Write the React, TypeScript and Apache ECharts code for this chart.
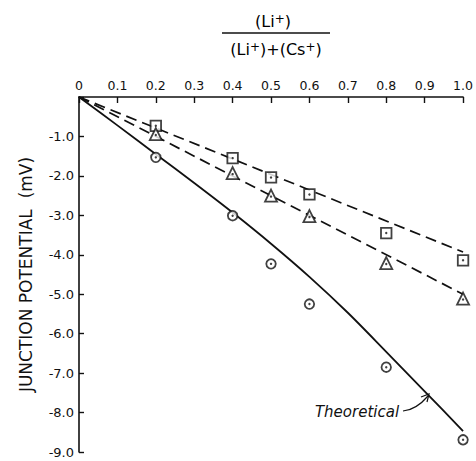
import React, { useEffect, useRef } from "react";
import * as echarts from "echarts";

const fractions = [0.2, 0.4, 0.5, 0.6, 0.8, 1.0];
const squareValues = [-0.73, -1.55, -2.04, -2.47, -3.45, -4.14];
const triangleValues = [-0.94, -1.93, -2.5, -3.02, -4.21, -5.11];
const circleValues = [-1.53, -3.01, -4.23, -5.25, -6.85, -8.69];

const theoX = [0, 0.1, 0.2, 0.3, 0.4, 0.5, 0.6, 0.7, 0.8, 0.9, 1.0];
const theoY = [0, -0.72, -1.45, -2.18, -2.93, -3.72, -4.56, -5.47, -6.46, -7.46, -8.47];

const squareFitX = [0, 1.0];
const squareFitY = [0, -3.93];
const triangleFitX = [0, 1.0];
const triangleFitY = [0, -5.0];

const FONT = "DejaVu Sans";

const zip = (xs: number[], ys: number[]) => xs.map((x, i) => [x, ys[i]]);

export default function App() {
  const ref = useRef<HTMLDivElement>(null);

  useEffect(() => {
    document.body.style.margin = "0";
    const chart = echarts.init(ref.current!, null, { renderer: "svg" });

    const markerSeries = (name: string, symbol: string, size: number, vals: number[]) => [
      {
        name,
        type: "scatter",
        data: zip(fractions, vals),
        symbol,
        symbolSize: size,
        itemStyle: { color: "#fff", borderColor: "#111", borderWidth: 1.8 },
        z: 5,
      },
      {
        name: name + "-dot",
        type: "scatter",
        data: zip(fractions, vals),
        symbol: "circle",
        symbolSize: 2.4,
        symbolOffset: symbol === "triangle" ? [0, 1] : [0, 0],
        itemStyle: { color: "#111" },
        z: 6,
      },
    ];

    const rich = {
      n: { fontFamily: FONT, fontSize: 16, color: "#111", verticalAlign: "bottom" },
      s: { fontFamily: FONT, fontSize: 12, color: "#111", verticalAlign: "top" },
    };

    chart.setOption({
      animation: false,
      backgroundColor: "#fff",
      grid: { left: 79, right: 10, top: 97, bottom: 9 },
      xAxis: {
        type: "value",
        position: "top",
        min: 0,
        max: 1,
        interval: 0.1,
        splitLine: { show: false },
        axisLine: { show: true, onZero: false, lineStyle: { color: "#111", width: 1.6 } },
        axisTick: { show: true, inside: true, length: 6, lineStyle: { color: "#111", width: 1.4 } },
        axisLabel: {
          margin: 5,
          fontFamily: FONT,
          fontSize: 12.5,
          color: "#111",
          formatter: (v: number) => (Math.abs(v) < 1e-9 ? "0" : v.toFixed(1)),
        },
      },
      yAxis: {
        type: "value",
        min: -9,
        max: 0,
        interval: 1,
        splitLine: { show: false },
        axisLine: { show: true, onZero: false, lineStyle: { color: "#111", width: 1.6 } },
        axisTick: { show: true, inside: true, length: 5, lineStyle: { color: "#111", width: 1.4 } },
        axisLabel: {
          margin: 5,
          fontFamily: FONT,
          fontSize: 13,
          color: "#111",
          formatter: (v: number) => (Math.abs(v) < 1e-9 ? "" : v.toFixed(1)),
        },
        name: "JUNCTION POTENTIAL  (mV)",
        nameLocation: "middle",
        nameRotate: 90,
        nameGap: 45,
        nameTextStyle: { fontFamily: FONT, fontSize: 17, color: "#111" },
      },
      series: [
        {
          name: "Theoretical",
          type: "line",
          data: zip(theoX, theoY),
          symbol: "none",
          smooth: 0.3,
          lineStyle: { color: "#111", width: 1.8 },
          z: 3,
        },
        {
          name: "square-fit",
          type: "line",
          data: zip(squareFitX, squareFitY),
          symbol: "none",
          lineStyle: { color: "#111", width: 1.7, type: [11, 6] },
          z: 3,
        },
        {
          name: "triangle-fit",
          type: "line",
          data: zip(triangleFitX, triangleFitY),
          symbol: "none",
          lineStyle: { color: "#111", width: 1.7, type: [11, 6] },
          z: 3,
        },
        ...markerSeries("square", "rect", 10.5, squareValues),
        ...markerSeries("triangle", "triangle", 12, triangleValues),
        ...markerSeries("circle", "circle", 9.5, circleValues),
      ],
      graphic: [
        {
          type: "text",
          x: 273,
          y: 21,
          style: {
            text: "{n|(Li}{s|+}{n|)}",
            rich,
            align: "center",
            verticalAlign: "middle",
          },
        },
        {
          type: "line",
          shape: { x1: 222, y1: 33, x2: 330, y2: 33 },
          style: { stroke: "#111", lineWidth: 1.6 },
        },
        {
          type: "text",
          x: 276,
          y: 49,
          style: {
            text: "{n|(Li}{s|+}{n|)+(Cs}{s|+}{n|)}",
            rich,
            align: "center",
            verticalAlign: "middle",
          },
        },
        {
          type: "text",
          x: 357,
          y: 412,
          style: {
            text: "Theoretical",
            font: `italic 15px "${FONT}"`,
            fill: "#111",
            align: "center",
            verticalAlign: "middle",
          },
        },
        {
          type: "bezierCurve",
          shape: { x1: 403, y1: 411, cpx1: 416, cpy1: 410, x2: 428, y2: 396 },
          style: { stroke: "#111", lineWidth: 1.2, fill: "none" },
        },
        {
          type: "polyline",
          shape: { points: [[421, 397], [429, 394], [427, 402]] },
          style: { stroke: "#111", lineWidth: 1.2, fill: "none" },
        },
      ],
    });

    return () => chart.dispose();
  }, []);

  return <div ref={ref} style={{ width: 476, height: 461 }} />;
}
